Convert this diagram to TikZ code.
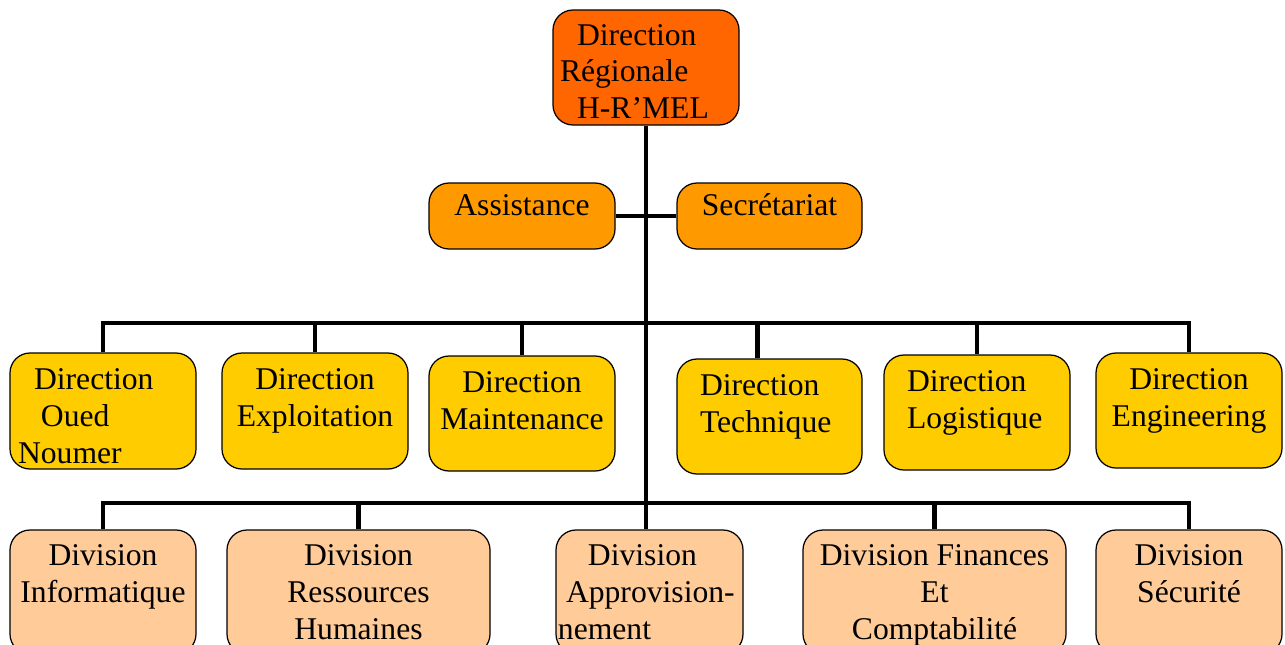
\documentclass[tikz,border=0pt]{standalone}
\usepackage{fontspec}
\setmainfont{Liberation Serif}
\definecolor{rouge}{HTML}{FF6600}
\definecolor{orange}{HTML}{FF9900}
\definecolor{jaune}{HTML}{FFCC00}
\definecolor{peche}{HTML}{FFCC99}

\begin{document}
\begin{tikzpicture}[x=0.2mm, y=-0.2mm,
    box/.style={draw, line width=0.7pt, rounded corners=4mm, inner sep=0pt,
                align=center, font=\fontsize{18}{21}\selectfont},
    dir/.style={box, fill=jaune, minimum width=37.2mm, minimum height=23mm},
    div/.style={box, fill=peche, minimum width=37.2mm, minimum height=24.8mm},
    gauche/.style={align=left, text width=#1},
    link/.style={line width=2.8pt}]
\clip (0,0) rectangle (1285,644);
% direction
\node[box, fill=rouge, minimum width=37.2mm, minimum height=23mm, gauche=37.2mm] (dr) at (646,67.5)
    {~\\[-4.6pt]\hspace*{13.7pt}Direction\\\hspace*{4pt}Régionale\\\hspace*{13.7pt}H-R’MEL};
\node[box, fill=orange, minimum width=37.2mm, minimum height=13.2mm] (assist) at (522,216) {Assistance\\[-8pt]~};
\node[box, fill=orange, minimum width=37mm, minimum height=13.2mm] (secr) at (769.5,216) {Secrétariat\\[-8pt]~};
% directions
\node[dir, minimum height=23.2mm, gauche=37.2mm] (oued) at (103,411)
    {~\\[-3pt]\hspace*{13.7pt}Direction\\\hspace*{17.6pt}Oued\\\hspace*{4.6pt}Noumer};
\node[dir, minimum height=23.2mm] (explo) at (315,411) {Direction\\Exploitation\\[-6pt]~};
\node[dir] (maint) at (522,413.5) {Direction\\Maintenance\\[-6pt]~};
\node[dir, minimum width=37mm, gauche=37mm] (tech) at (769.5,416.5)
    {\hspace*{13.1pt}Direction\\\hspace*{13.1pt}Technique\\[-6pt]~};
\node[dir, gauche=37.2mm] (logi) at (977,412.5)
    {\hspace*{13.1pt}Direction\\\hspace*{13.1pt}Logistique\\[-6pt]~};
\node[dir] (engi) at (1189,410.5) {Direction\\Engineering\\[-6pt]~};
% divisions
\node[div] (info) at (103,592) {Division\\Informatique\\~};
\node[div, minimum width=52.6mm] (rh) at (358.5,592) {Division\\Ressources\\Humaines};
\node[div, minimum width=37.4mm, gauche=37.4mm] (appro) at (649.5,592)
    {\hspace*{18.2pt}Division\\\hspace*{5.7pt}Approvision-\\\hspace*{1.1pt}nement};
\node[div, minimum width=52.6mm] (fin) at (934.5,592) {~\\[-5.5pt]Division Finances\\Et\\Comptabilité};
\node[div] (secu) at (1189,592) {Division\\Sécurité\\~};
% liaisons
\coordinate (b1) at (646,323);
\coordinate (b2) at (646,503);
\draw[link] (dr.south) -- (dr.south |- appro.north);
\draw[link] (assist.east) -- (secr.west);
\foreach \n in {oued,explo,maint,logi,engi}
    \draw[link] (b1) -| (\n.north);
\draw[link] (b1) -| ([xshift=-7pt]tech.north);
\foreach \n in {info,rh,fin,secu}
    \draw[link] (b2) -| (\n.north);
\end{tikzpicture}
\end{document}
